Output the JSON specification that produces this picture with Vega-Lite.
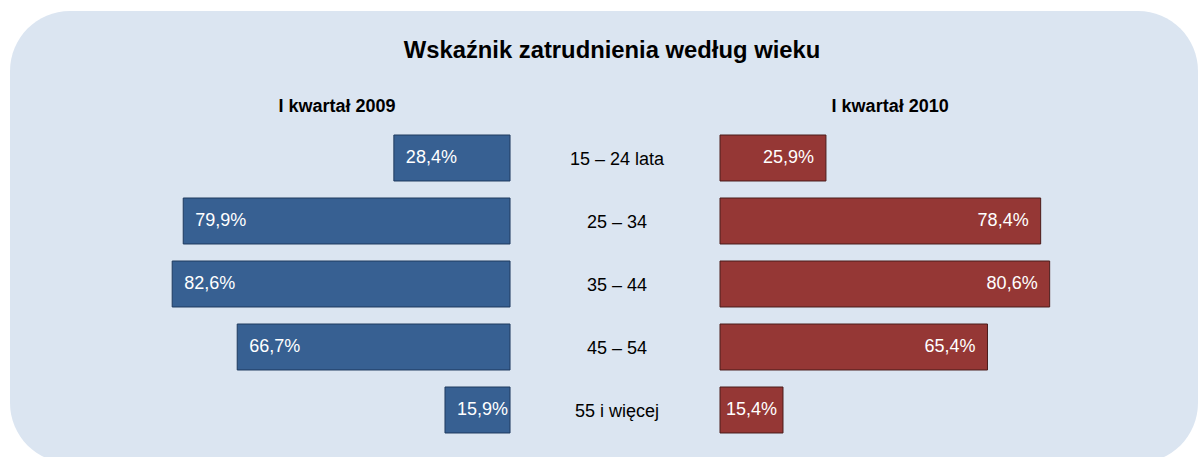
{
  "$schema": "https://vega.github.io/schema/vega-lite/v6.json",
  "autosize": "none",
  "width": 1188,
  "height": 452,
  "padding": {"left": 10, "top": 11, "right": 2, "bottom": 0},
  "background": "white",
  "title": {
    "text": "Wskaźnik zatrudnienia według wieku",
    "font": "Liberation Sans",
    "fontSize": 23.8,
    "fontWeight": "bold",
    "color": "#000000",
    "anchor": "middle",
    "frame": "group",
    "baseline": "alphabetic",
    "offset": -71,
    "dx": 8
  },
  "datasets": {
    "rows": [
      {"age": "15 – 24 lata", "q2009": 0.284, "q2010": 0.259},
      {"age": "25 – 34", "q2009": 0.799, "q2010": 0.784},
      {"age": "35 – 44", "q2009": 0.826, "q2010": 0.806},
      {"age": "45 – 54", "q2009": 0.667, "q2010": 0.654},
      {"age": "55 i więcej", "q2009": 0.159, "q2010": 0.154}
    ],
    "head2009": [{"label": "I kwartał 2009", "pos": 0.423, "age": "15 – 24 lata"}],
    "head2010": [{"label": "I kwartał 2010", "pos": 0.416, "age": "15 – 24 lata"}]
  },
  "data": {"name": "rows"},
  "layer": [
    {
      "layer": [
        {
          "mark": {"type": "bar", "fill": "#376092", "stroke": "#1f3a5f", "strokeWidth": 1},
          "encoding": {
            "y": {"field": "age", "type": "nominal", "sort": null, "axis": null,
                  "scale": {"range": [115.5, 430.5], "paddingInner": 0.27, "paddingOuter": 0.135}},
            "x": {"field": "q2009", "type": "quantitative", "axis": null,
                  "scale": {"domain": [-1.682, 1.2225], "reverse": true, "nice": false, "zero": false}},
            "x2": {"datum": 0}
          }
        },
        {
          "mark": {"type": "text", "align": "left", "baseline": "middle", "dx": 12, "font": "Liberation Sans", "fontSize": 18, "color": "#ffffff"},
          "encoding": {
            "y": {"field": "age", "type": "nominal", "sort": null},
            "x": {"field": "q2009", "type": "quantitative"},
            "text": {"field": "q2009", "type": "quantitative", "format": ".1%"}
          }
        },
        {
          "data": {"name": "head2009"},
          "mark": {"type": "text", "align": "center", "baseline": "alphabetic", "dy": -46, "font": "Liberation Sans", "fontSize": 18, "fontWeight": "bold", "color": "#000000"},
          "encoding": {
            "y": {"field": "age", "type": "nominal", "sort": null},
            "x": {"field": "pos", "type": "quantitative"},
            "text": {"field": "label", "type": "nominal"}
          }
        }
      ]
    },
    {
      "layer": [
        {
          "mark": {"type": "bar", "fill": "#953735", "stroke": "#4b1c1b", "strokeWidth": 1},
          "encoding": {
            "y": {"field": "age", "type": "nominal", "sort": null},
            "x": {"field": "q2010", "type": "quantitative", "axis": null,
                  "scale": {"domain": [-1.736, 1.1687], "nice": false, "zero": false}},
            "x2": {"datum": 0}
          }
        },
        {
          "mark": {"type": "text", "align": "right", "baseline": "middle", "dx": {"expr": "datum.q2010 < 0.2 ? -6 : -12"}, "font": "Liberation Sans", "fontSize": 18, "color": "#ffffff"},
          "encoding": {
            "y": {"field": "age", "type": "nominal", "sort": null},
            "x": {"field": "q2010", "type": "quantitative"},
            "text": {"field": "q2010", "type": "quantitative", "format": ".1%"}
          }
        },
        {
          "mark": {"type": "text", "align": "center", "baseline": "middle", "dy": 2, "font": "Liberation Sans", "fontSize": 18, "color": "#000000"},
          "encoding": {
            "y": {"field": "age", "type": "nominal", "sort": null},
            "x": {"datum": -0.252, "type": "quantitative"},
            "text": {"field": "age", "type": "nominal"}
          }
        },
        {
          "data": {"name": "head2010"},
          "mark": {"type": "text", "align": "center", "baseline": "alphabetic", "dy": -46, "font": "Liberation Sans", "fontSize": 18, "fontWeight": "bold", "color": "#000000"},
          "encoding": {
            "y": {"field": "age", "type": "nominal", "sort": null},
            "x": {"field": "pos", "type": "quantitative"},
            "text": {"field": "label", "type": "nominal"}
          }
        }
      ]
    }
  ],
  "resolve": {"scale": {"x": "independent"}},
  "config": {
    "view": {"fill": "#dbe5f1", "stroke": null, "cornerRadius": 60},
    "axis": {"disable": true},
    "locale": {"number": {"decimal": ",", "thousands": " ", "grouping": [3], "currency": ["", " zł"], "percent": "%"}}
  }
}
